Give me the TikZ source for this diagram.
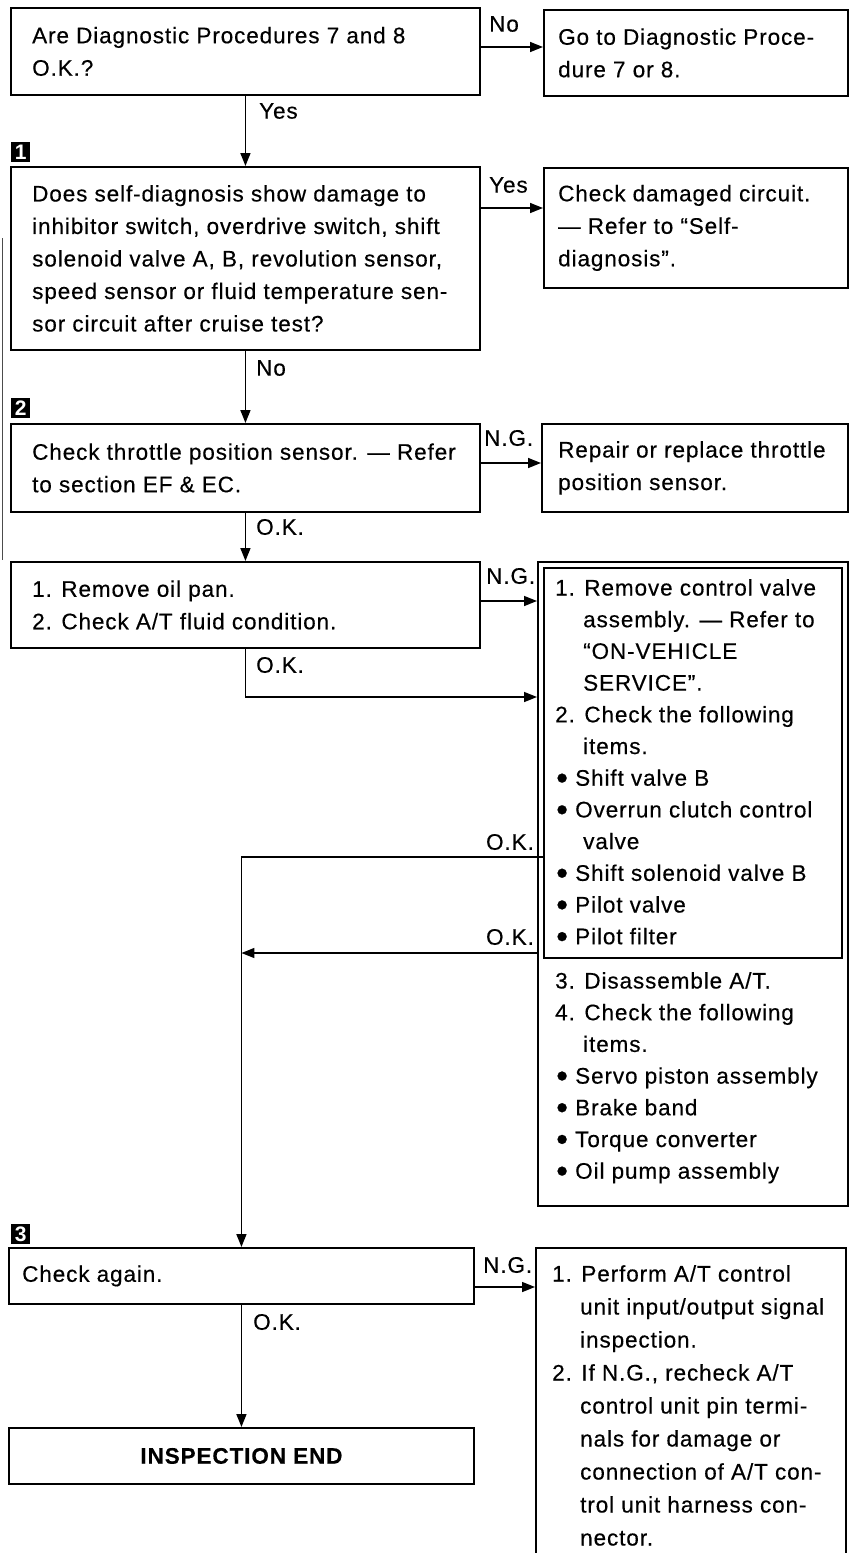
\documentclass[tikz,border=0pt]{standalone}
\usepackage{fontspec}
\setmainfont{Liberation Sans}
\newfontfamily\hvfam[LetterSpace=4,FakeBold=0.4]{Liberation Sans}
\usetikzlibrary{arrows.meta}
\newcommand\hv{\hvfam\fontsize{22.5}{32.5}\selectfont}
\newcommand\hvH{\hvfam\fontsize{22.5}{31.7}\selectfont}
\newcommand\hvJ{\hvfam\fontsize{22.5}{33}\selectfont}
\newcommand\ind{\hspace*{28pt}}
\newcommand\bul{\makebox[20pt][l]{\hspace*{1pt}\raisebox{-3.6pt}{\scalebox{1.5}{•}}}}
\begin{document}
\begin{tikzpicture}[x=1pt,y=-1pt,
  flowbox/.style={draw, line width=1.9pt, anchor=north west, inner sep=0pt, rectangle},
  txt/.style={anchor=west, align=left, inner sep=0pt, font=\hv},
  lbl/.style={anchor=west, inner sep=0pt, font=\hv},
  conn/.style={line width=1.5pt},
  arr/.style={conn, -{Triangle[length=13pt,width=10pt]}},
  stepmark/.style={fill=black, text=white, anchor=north west, minimum width=19pt, minimum height=20pt, inner sep=0pt, font=\bfseries\fontsize{21}{21}\selectfont}]
\useasboundingbox (0,0) rectangle (849,1553);

% boxes
\node[flowbox, minimum width=469pt, minimum height=87pt] (A) at (10,7) {};
\node[flowbox, minimum width=304pt, minimum height=86pt] (B) at (543,9) {};
\node[flowbox, minimum width=469pt, minimum height=183pt] (C) at (10,166) {};
\node[flowbox, minimum width=304pt, minimum height=120pt] (D) at (543,167) {};
\node[flowbox, minimum width=469pt, minimum height=88pt] (E) at (10,423) {};
\node[flowbox, minimum width=306pt, minimum height=88pt] (F) at (541,423) {};
\node[flowbox, minimum width=469pt, minimum height=86pt] (G) at (10,561) {};
\node[flowbox, minimum width=310pt, minimum height=644pt] (Hout) at (537,561) {};
\node[flowbox, line width=1.5pt, minimum width=298pt, minimum height=390pt] (Hin) at (543,567) {};
\node[flowbox, minimum width=465pt, minimum height=56pt] (I) at (8,1247) {};
\node[flowbox, minimum width=310pt, minimum height=330pt] (J) at (535,1247) {};
\node[flowbox, minimum width=465pt, minimum height=56pt] (K) at (8,1427) {};

% step markers
\node[stepmark] (m1) at (11,142) {1};
\node[stepmark] (m2) at (11,398) {2};
\node[stepmark] (m3) at (11,1224) {3};

% texts
\node[txt] (At) at ([xshift=22pt]A.west) {Are Diagnostic Procedures 7 and 8\\O.K.?};
\node[txt] (Bt) at ([xshift=15pt]B.west) {Go to Diagnostic Proce-\\dure 7 or 8.};
\node[txt] (Ct) at ([xshift=22pt]C.west) {Does self-diagnosis show damage to\\inhibitor switch, overdrive switch, shift\\solenoid valve A, B, revolution sensor,\\speed sensor or fluid temperature sen-\\sor circuit after cruise test?};
\node[txt] (Dt) at ([xshift=15pt]D.west) {Check damaged circuit.\\— Refer to “Self-\\diagnosis”.};
\node[txt] (Et) at ([xshift=22pt]E.west) {Check throttle position sensor. — Refer\\to section EF \& EC.};
\node[txt] (Ft) at ([xshift=17pt]F.west) {Repair or replace throttle\\position sensor.};
\node[txt] (Gt) at ([xshift=22pt]G.west) {1. Remove oil pan.\\2. Check A/T fluid condition.};
\node[txt, anchor=north west, font=\hvH] (Ht) at (555,579) {1. Remove control valve\\\ind assembly. — Refer to\\\ind “ON-VEHICLE\\\ind SERVICE”.\\2. Check the following\\\ind items.\\\bul Shift valve B\\\bul Overrun clutch control\\\ind valve\\\bul Shift solenoid valve B\\\bul Pilot valve\\\bul Pilot filter};
\node[txt, anchor=north west, font=\hvH] (Ht2) at (555,972) {3. Disassemble A/T.\\4. Check the following\\\ind items.\\\bul Servo piston assembly\\\bul Brake band\\\bul Torque converter\\\bul Oil pump assembly};
\node[txt] (It) at ([xshift=14pt]I.west) {Check again.};
\node[txt, anchor=north west, font=\hvJ] (Jt) at (552,1265) {1. Perform A/T control\\\ind unit input/output signal\\\ind inspection.\\2. If N.G., recheck A/T\\\ind control unit pin termi-\\\ind nals for damage or\\\ind connection of A/T con-\\\ind trol unit harness con-\\\ind nector.};
\node[txt, anchor=center, font=\hv\bfseries] (Kt) at (K.center) {INSPECTION END};

% coordinates
\coordinate (y47) at (0,47);
\coordinate (y208) at (0,208);
\coordinate (y463) at (0,463);
\coordinate (y601) at (0,601);
\coordinate (y697) at (0,697);
\coordinate (y857) at (0,857);
\coordinate (y953) at (0,953);
\coordinate (y1287) at (0,1287);

% connectors
\draw[arr] (A.east |- y47) -- (B.west |- y47);
\draw[arr] (A.south) -- (C.north);
\draw[arr] (C.east |- y208) -- (D.west |- y208);
\draw[arr] (C.south) -- (E.north);
\draw[arr] (E.east |- y463) -- (F.west |- y463);
\draw[arr] (E.south) -- (G.north);
\draw[arr] (G.east |- y601) -- (Hout.west |- y601);
\draw[arr] (G.south) |- (Hout.west |- y697);
\draw[arr] (Hin.west |- y857) -| (I.north);
\draw[arr] (Hout.west |- y953) -- (I.north |- y953);
\draw[arr] (I.east |- y1287) -- (J.west |- y1287);
\draw[arr] (I.south) -- (K.north);

% labels
\node[lbl] (l1) at (489,24) {No};
\node[lbl] (l2) at (259,111) {Yes};
\node[lbl] (l3) at (489,185) {Yes};
\node[lbl] (l4) at (256,368) {No};
\node[lbl] (l5) at (484,438) {N.G.};
\node[lbl] (l6) at (256,527) {O.K.};
\node[lbl] (l7) at (486,576) {N.G.};
\node[lbl] (l8) at (256,665) {O.K.};
\node[lbl, anchor=east] (l9) at (534,842) {O.K.};
\node[lbl, anchor=east] (l10) at (534,937) {O.K.};
\node[lbl] (l11) at (483,1265) {N.G.};
\node[lbl] (l12) at (253,1322) {O.K.};

% scan edge line at far left
\draw[line width=0.8pt, black!70] (2,238) -- (2,560);
\end{tikzpicture}
\end{document}
